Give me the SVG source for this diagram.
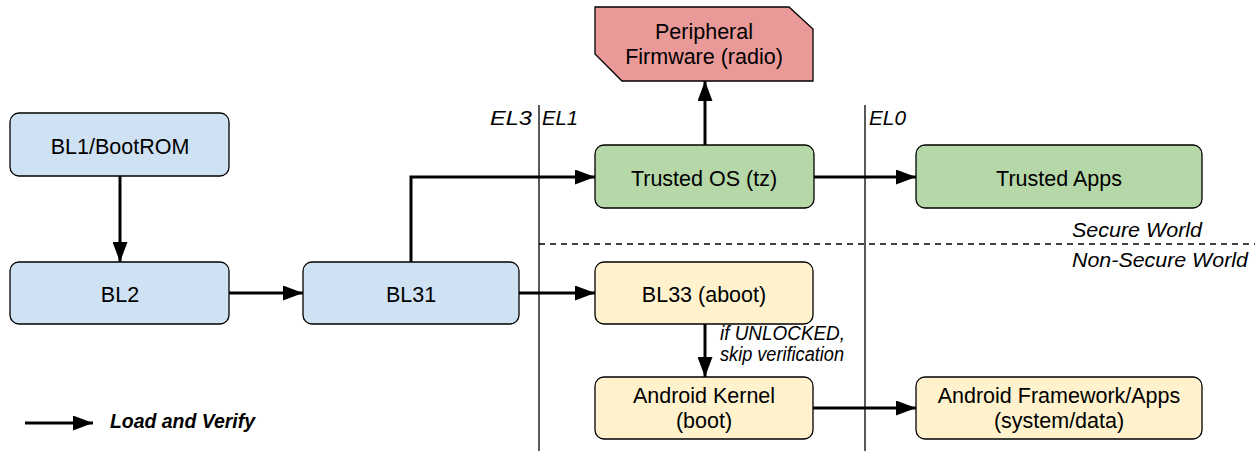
<svg xmlns="http://www.w3.org/2000/svg" width="1255" height="451" viewBox="0 0 1255 451">
<style>
.n{stroke:#000;stroke-width:1.3}
.blue{fill:#cfe2f3}.green{fill:#b6d7a8}.yellow{fill:#fff2cc}.red{fill:#ea9999}
.t{font-family:"Liberation Sans",Arial,sans-serif;font-size:21.5px;fill:#000;text-anchor:middle}
.i{font-family:"Liberation Sans",Arial,sans-serif;font-size:20px;font-style:italic;fill:#000}
.c{fill:none;stroke:#000;stroke-width:3}
.g{fill:none;stroke:#000;stroke-width:1.3}
</style>
<defs>
<marker id="ah" markerUnits="userSpaceOnUse" markerWidth="20" markerHeight="15" refX="20" refY="7.5" orient="auto">
<path d="M0,0 L20,7.5 L0,15 z" fill="#000"/>
</marker>
</defs>
<rect width="1255" height="451" fill="#fff"/>
<g id="guides">
<line class="g" x1="539" y1="105" x2="539" y2="451"/>
<line class="g" x1="865" y1="105" x2="865" y2="451"/>
<line class="g" x1="539" y1="244" x2="1255" y2="244" stroke-dasharray="6,5"/>
<text class="i" x="490" y="125" textLength="42" lengthAdjust="spacingAndGlyphs">EL3</text>
<text class="i" x="542" y="125" textLength="36" lengthAdjust="spacingAndGlyphs">EL1</text>
<text class="i" x="869" y="125" textLength="37" lengthAdjust="spacingAndGlyphs">EL0</text>
<text class="i" x="1072" y="237" textLength="130" lengthAdjust="spacingAndGlyphs">Secure World</text>
<text class="i" x="1072" y="267" textLength="176" lengthAdjust="spacingAndGlyphs">Non-Secure World</text>
</g>
<g id="connectors">
<line class="c" x1="120" y1="176" x2="120" y2="262" marker-end="url(#ah)"/>
<line class="c" x1="229" y1="293" x2="303" y2="293" marker-end="url(#ah)"/>
<path class="c" d="M411,262 V177 H595" marker-end="url(#ah)"/>
<line class="c" x1="519" y1="293" x2="595" y2="293" marker-end="url(#ah)"/>
<line class="c" x1="705" y1="145" x2="705" y2="81" marker-end="url(#ah)"/>
<line class="c" x1="814" y1="177" x2="916" y2="177" marker-end="url(#ah)"/>
<line class="c" x1="705" y1="324" x2="705" y2="377" marker-end="url(#ah)"/>
<line class="c" x1="813" y1="408" x2="916" y2="408" marker-end="url(#ah)"/>
<text class="i" x="720" y="340" font-size="18" textLength="125" lengthAdjust="spacingAndGlyphs">if UNLOCKED,</text>
<text class="i" x="720" y="361" font-size="18" textLength="124" lengthAdjust="spacingAndGlyphs">skip verification</text>
</g>
<g id="bl1">
<rect class="n blue" x="10" y="113" width="219" height="63" rx="9"/>
<text class="t" x="120" y="154">BL1/BootROM</text>
</g>
<g id="bl2">
<rect class="n blue" x="10" y="262" width="219" height="62" rx="9"/>
<text class="t" x="120" y="302">BL2</text>
</g>
<g id="bl31">
<rect class="n blue" x="303" y="262" width="216" height="62" rx="9"/>
<text class="t" x="411" y="302">BL31</text>
</g>
<g id="trusted-os">
<rect class="n green" x="595" y="145" width="219" height="63" rx="9"/>
<text class="t" x="704" y="186">Trusted OS (tz)</text>
</g>
<g id="trusted-apps">
<rect class="n green" x="916" y="145" width="286" height="63" rx="9"/>
<text class="t" x="1059" y="186">Trusted Apps</text>
</g>
<g id="peripheral">
<polygon class="n red" points="595,7 789,7 813,29 813,81 622,81 595,54"/>
<text class="t" x="704" y="39">Peripheral</text>
<text class="t" x="704" y="64">Firmware (radio)</text>
</g>
<g id="bl33">
<rect class="n yellow" x="595" y="262" width="218" height="62" rx="9"/>
<text class="t" x="704" y="302">BL33 (aboot)</text>
</g>
<g id="kernel">
<rect class="n yellow" x="595" y="377" width="218" height="62" rx="9"/>
<text class="t" x="704" y="403">Android Kernel</text>
<text class="t" x="704" y="428">(boot)</text>
</g>
<g id="framework">
<rect class="n yellow" x="916" y="377" width="286" height="62" rx="9"/>
<text class="t" x="1059" y="403">Android Framework/Apps</text>
<text class="t" x="1059" y="428">(system/data)</text>
</g>
<g id="legend">
<line class="c" x1="25" y1="423" x2="93" y2="423" marker-end="url(#ah)"/>
<text class="i" x="110" y="428" font-size="17" font-weight="bold" textLength="145" lengthAdjust="spacingAndGlyphs">Load and Verify</text>
</g>
</svg>
